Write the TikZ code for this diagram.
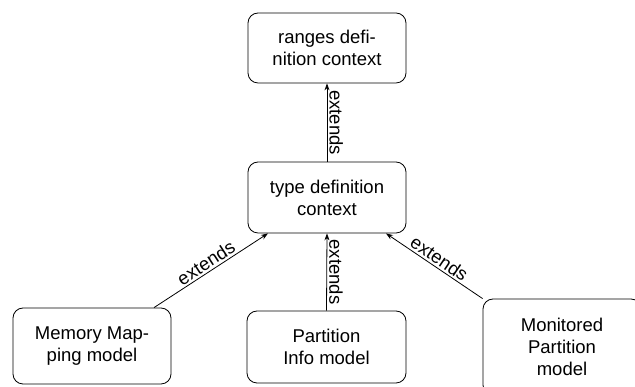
\documentclass[tikz,border=0pt]{standalone}
\usepackage{fontspec}
\setmainfont{Liberation Sans}
\usetikzlibrary{arrows.meta}
\begin{document}
\begin{tikzpicture}[x=1pt,y=1pt,
  box/.style={draw, line width=0.8pt, rounded corners=10pt, align=center,
    inner sep=0pt, font=\fontsize{18.5}{22}\selectfont},
  ext/.style={draw, line width=0.8pt, -{Stealth[length=7pt,width=5pt]}},
  lbl/.style={font=\fontsize{18.5}{22}\selectfont, inner sep=2pt}]
\useasboundingbox (0,0) rectangle (635,387);
\clip (0,0) rectangle (635,387);
\node[box, minimum width=158pt, minimum height=70pt] (top) at (327,339) {ranges defi-\\nition context};
\node[box, minimum width=158pt, minimum height=71pt] (mid) at (327,189.5) {type definition\\context};
\node[box, minimum width=158pt, minimum height=76pt] (mem) at (92,41) {Memory Map-\\ping model};
\node[box, minimum width=159pt, minimum height=72pt] (part) at (326.5,40) {Partition\\Info model};
\node[box, minimum width=158pt, minimum height=96pt] (mon) at (562,40) {Monitored\\Partition\\model};
\coordinate (mL) at ([xshift=-59pt]mid.south);
\coordinate (mR) at ([xshift=59pt]mid.south);
\coordinate (memT) at ([xshift=62pt]mem.north);
\draw[ext] (mid.north) -- node[lbl, rotate=-90, anchor=south] {extends} (top.south);
\draw[ext] (part.north) -- node[lbl, rotate=-90, anchor=south] {extends} (mid.south);
\draw[ext] (memT) -- node[lbl, sloped, above] {extends} (mL);
\draw[ext] (mon.north west) -- node[lbl, sloped, above] {extends} (mR);
\end{tikzpicture}
\end{document}
